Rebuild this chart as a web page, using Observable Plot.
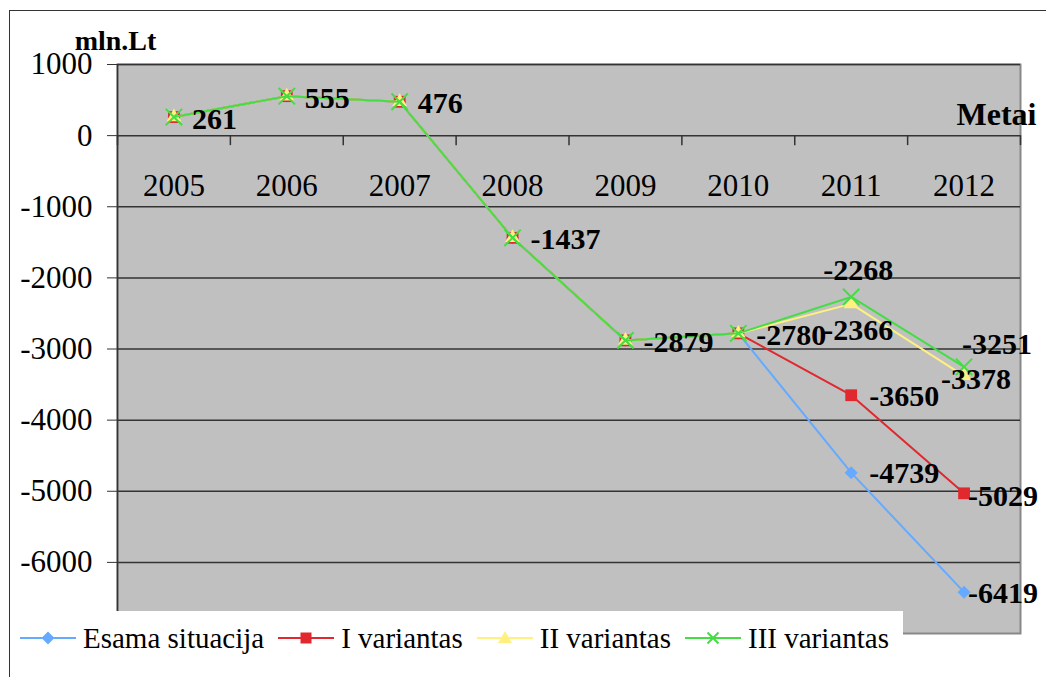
<!DOCTYPE html>
<html><head><meta charset="utf-8">
<script src="https://cdn.jsdelivr.net/npm/d3@7"></script>
<script src="https://cdn.jsdelivr.net/npm/@observablehq/plot@0.6"></script>
<style>
html,body{margin:0;padding:0;background:#fff;overflow:hidden;}
#wrap{position:relative;width:1046px;height:677px;overflow:hidden;font-family:"Liberation Serif","Times New Roman",serif;}
#wrap > svg{position:absolute;left:0;top:0;}
#frame{position:absolute;left:9px;top:10px;width:1100px;height:720px;border:1.5px solid #333;box-sizing:border-box;pointer-events:none;}
#legend{position:absolute;left:10px;top:611px;width:893px;height:66px;background:#fff;}
#items{position:absolute;left:10px;top:10px;display:flex;align-items:center;font-size:29px;line-height:34px;white-space:nowrap;}
.item{display:flex;align-items:center;margin-right:14px;}
.item svg{display:block;margin-right:7px;}
</style>
</head><body>
<div id="wrap"></div>
<script>
// ---- data ----
const years = [2005, 2006, 2007, 2008, 2009, 2010, 2011, 2012];
const esama = [261, 555, 476, -1437, -2879, -2780, -4739, -6419];
const variantI = [261, 555, 476, -1437, -2879, -2780, -3650, -5029];
const variantII = [261, 555, 476, -1437, -2879, -2780, -2366, -3378];
const variantIII = [261, 555, 476, -1437, -2879, -2780, -2268, -3251];
const seriesNames = ["Esama situacija", "I variantas", "II variantas", "III variantas"];
const yTicks = [1000, 0, -1000, -2000, -3000, -4000, -5000, -6000];
const yUnit = "mln.Lt";
const xTitle = "Metai";

const FONT = "Liberation Serif, Times New Roman, serif";
const colors = ["#66aaff", "#e0282e", "#fff080", "#44dd44"];
const seriesValues = [esama, variantI, variantII, variantIII];
const rows = seriesValues.map((vals, s) => years.map((yr, i) => ({year: yr, value: vals[i], series: seriesNames[s], idx: i})));
const boundaries = years.map(y => y - 0.5).concat([years[years.length - 1] + 0.5]);

const fmt = d => String(d);
const lbl = (data, opts) => Plot.text(data, {x: "year", y: "value", text: d => fmt(d.value), fontWeight: "bold", fontSize: 30, fontFamily: FONT, lineAnchor: "middle", ...opts});

const seriesMarks = [];
const symbols = [
  {symbol: "diamond2", r: 5.9, fill: colors[0]},
  {symbol: "square2", r: 7.5, fill: colors[1]},
  {symbol: "triangle2", r: 7, fill: colors[2]},
  {symbol: "times", r: 7.5, stroke: colors[3], strokeWidth: 2, fill: "none"}
];
rows.forEach((r, s) => {
  seriesMarks.push(Plot.line(r, {x: "year", y: "value", stroke: colors[s], strokeWidth: 2}));
  seriesMarks.push(Plot.dot(r, {x: "year", y: "value", ...symbols[s]}));
});

const shared = rows[0].filter(d => d.idx < 6);
const pick = (s, i) => [rows[s][i]];

const chart = Plot.plot({
  width: 1046, height: 677,
  marginLeft: 117, marginRight: 26, marginTop: 64, marginBottom: 44,
  x: {type: "linear", domain: [2004.5, 2012.5], axis: null},
  y: {domain: [-7000, 1000], axis: null},
  style: {fontFamily: FONT, fontSize: "31px", background: "transparent", color: "#000", overflow: "visible"},
  marks: [
    Plot.frame({fill: "#c0c0c0", stroke: "#888", strokeWidth: 2}),
    Plot.ruleY(yTicks, {stroke: "#333", strokeWidth: 1.5}),
    Plot.ruleX([boundaries[0]], {stroke: "#333", strokeWidth: 1.5}),
    Plot.axisY({ticks: yTicks, label: null, tickSize: 10, tickPadding: 15, tickFormat: fmt, fontSize: 31, fontFamily: FONT, stroke: "#333", strokeOpacity: 1, fill: "#000"}),
    Plot.ruleX(boundaries, {x: d => d, y1: () => 0, y2: () => 0, insetBottom: -10, stroke: "#333", strokeWidth: 1.5}),
    Plot.text(years, {x: d => d, y: () => 0, dy: 50, text: d => String(d), fontSize: 31, fontFamily: FONT, lineAnchor: "middle"}),
    ...seriesMarks,
    lbl(shared, {dx: 18, dy: 2, textAnchor: "start"}),
    lbl(pick(3, 6), {dx: 7, dy: -27, textAnchor: "middle"}),
    lbl(pick(2, 6), {dx: 7, dy: 26, textAnchor: "middle"}),
    lbl(pick(1, 6), {dx: 18, dy: 1, textAnchor: "start"}),
    lbl(pick(0, 6), {dx: 18, dy: 1, textAnchor: "start"}),
    lbl(pick(3, 7), {dx: -2, dy: -22, textAnchor: "start"}),
    lbl(pick(2, 7), {dx: -23, dy: 4, textAnchor: "start"}),
    lbl(pick(1, 7), {dx: 4, dy: 3, textAnchor: "start"}),
    lbl(pick(0, 7), {dx: 4, dy: 1, textAnchor: "start"}),
    Plot.text([yUnit], {frameAnchor: "top-left", text: d => d, textAnchor: "middle", lineAnchor: "middle", dx: -2, dy: -23, fontWeight: "bold", fontSize: 28, fontFamily: FONT}),
    Plot.text([xTitle], {frameAnchor: "top-right", text: d => d, textAnchor: "end", lineAnchor: "middle", dx: 16, dy: 50, fontWeight: "bold", fontSize: 32, fontFamily: FONT})
  ]
});

const wrap = document.getElementById("wrap");
wrap.appendChild(chart);
const frame = document.createElement("div"); frame.id = "frame"; wrap.appendChild(frame);

// legend
const legend = document.createElement("div"); legend.id = "legend";
const items = document.createElement("div"); items.id = "items";
const iconShapes = [
  c => `<polygon points="28,10.5 34.5,17 28,23.5 21.5,17" fill="${c}"/>`,
  c => `<rect x="22.5" y="11.5" width="11" height="11" fill="${c}"/>`,
  c => `<polygon points="28,10 35,22 21,22" fill="${c}"/>`,
  c => `<path d="M22.5,11.5 L33.5,22.5 M33.5,11.5 L22.5,22.5" stroke="${c}" stroke-width="2" fill="none"/>`
];
seriesNames.forEach((name, s) => {
  const it = document.createElement("div"); it.className = "item";
  it.innerHTML = `<svg width="56" height="34" viewBox="0 0 56 34"><line x1="0" y1="17" x2="56" y2="17" stroke="${colors[s]}" stroke-width="2"/>${iconShapes[s](colors[s])}</svg><span>${name}</span>`;
  items.appendChild(it);
});
legend.appendChild(items);
wrap.appendChild(legend);
</script>
</body></html>
